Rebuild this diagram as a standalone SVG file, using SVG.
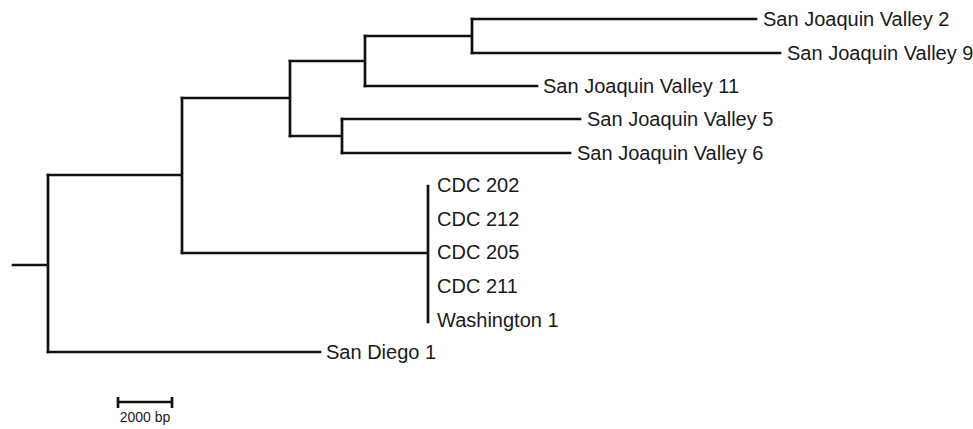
<svg xmlns="http://www.w3.org/2000/svg" width="973" height="429" viewBox="0 0 973 429">
<style>
.br{fill:none;stroke:#111;stroke-width:2.7;stroke-linecap:square;stroke-linejoin:miter}
.lb{font-family:"Liberation Sans",Arial,sans-serif;font-size:20px;fill:#1a1a1a}
.sc{font-family:"Liberation Sans",Arial,sans-serif;font-size:14px;fill:#1a1a1a}
</style>
<rect width="973" height="429" fill="#fff"/>
<g id="connectors">
<path class="br" d="M13 265H48M48 175V352"/>
<path class="br" d="M48 175H182M182 98V253"/>
<path class="br" d="M48 352H320"/>
<path class="br" d="M182 98H290M290 61V136"/>
<path class="br" d="M182 253H428M428 186V322"/>
<path class="br" d="M290 61H365M365 36V86"/>
<path class="br" d="M290 136H342M342 119V153"/>
<path class="br" d="M365 36H472M472 19V53"/>
<path class="br" d="M472 19H756"/>
<path class="br" d="M472 53H780"/>
<path class="br" d="M365 86H537"/>
<path class="br" d="M342 119H580"/>
<path class="br" d="M342 153H570"/>
</g>
<g id="sjv2"><text class="lb" x="763" y="26">San Joaquin Valley 2</text></g>
<g id="sjv9"><text class="lb" x="787" y="60">San Joaquin Valley 9</text></g>
<g id="sjv11"><text class="lb" x="543" y="93">San Joaquin Valley 11</text></g>
<g id="sjv5"><text class="lb" x="587" y="126">San Joaquin Valley 5</text></g>
<g id="sjv6"><text class="lb" x="577" y="160">San Joaquin Valley 6</text></g>
<g id="cdc202"><text class="lb" x="437" y="192">CDC 202</text></g>
<g id="cdc212"><text class="lb" x="437" y="226">CDC 212</text></g>
<g id="cdc205"><text class="lb" x="437" y="259">CDC 205</text></g>
<g id="cdc211"><text class="lb" x="437" y="293">CDC 211</text></g>
<g id="washington1"><text class="lb" x="437" y="327">Washington 1</text></g>
<g id="sandiego1"><text class="lb" x="326" y="359">San Diego 1</text></g>
<g id="scalebar">
<path class="br" d="M118 402H172M118 397V408M172 397V408" style="stroke-linecap:butt"/>
<text class="sc" x="145" y="422" text-anchor="middle">2000 bp</text>
</g>
</svg>
